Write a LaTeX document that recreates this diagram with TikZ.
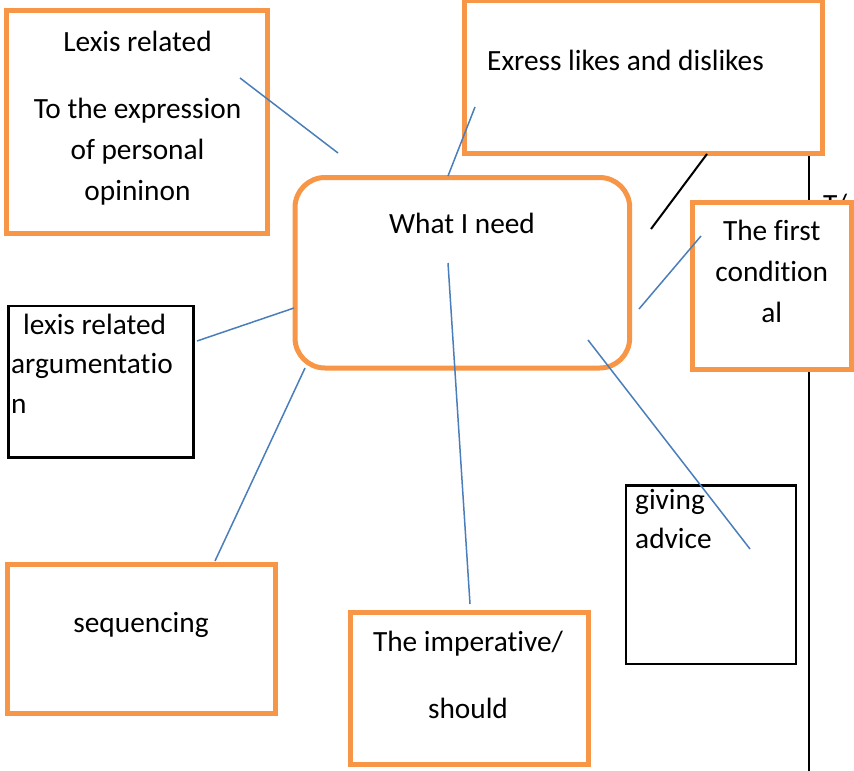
\documentclass[tikz,border=0pt]{standalone}
\usepackage{fontspec}
\setmainfont[Ligatures={NoCommon,NoContextual}]{Carlito}
\definecolor{boxorange}{HTML}{F79646}
\definecolor{lineblue}{HTML}{4A7EBB}
\begin{document}
\begin{tikzpicture}[x=1pt,y=-1pt,
  obox/.style={draw=boxorange,line width=5pt,fill=white,inner sep=0pt,outer sep=0pt},
  bbox/.style={draw=black,line width=2.5pt,fill=white,inner sep=0pt,outer sep=0pt},
  txt/.style={inner sep=0pt,font=\fontsize{29.33}{41}\selectfont},
  link/.style={lineblue,line width=1.5pt}]
  \useasboundingbox (0,0) rectangle (854,771);
  \node[txt,anchor=base west] (tcut) at (823,214) {T/};
  \coordinate (va) at (808.5,155);
  \coordinate (vb) at (808.5,771);
  \draw[line width=2pt] (va)--(vb);
  \node[obox,minimum width=261,minimum height=222.5] (lexis) at (137,121.75) {};
  \node[obox,minimum width=358.5,minimum height=153] (likes) at (643.25,77) {};
  \node[obox,rounded corners=30pt,minimum width=334.7,minimum height=190.5] (need) at (462.35,272.75) {};
  \node[obox,minimum width=159,minimum height=167] (cond) at (772,285.5) {};
  \node[bbox,minimum width=185.2,minimum height=151.5] (argu) at (101.1,381.75) {};
  \node[obox,minimum width=267.5,minimum height=149.5] (seq) at (141.25,638.75) {};
  \node[obox,minimum width=237.7,minimum height=151.5] (imper) at (469.65,688.25) {};
  \node[bbox,minimum width=169.8,minimum height=178.5] (advice) at (710.9,574.55) {};
  \node[txt,anchor=base,align=center] (lexis-t) at (137.5,200) {Lexis related\\[26pt]To the expression\\of personal\\opininon};
  \node[txt,anchor=base west] (likes-t) at (487,70) {Exress likes and dislikes};
  \node[txt,anchor=base] (need-t) at (462,233) {What I need};
  \node[txt,anchor=base,align=center] (cond-t) at (771.7,322) {The first\\condition\\al};
  \node[txt,anchor=base west,align=left,font=\fontsize{29.33}{39.5}\selectfont] (argu-t) at (11,413) {\hspace*{12pt}lexis related\\argumentatio\\n};
  \node[txt,anchor=base] (seq-t) at (141,632.7) {sequencing};
  \node[txt,anchor=base,align=center] (imper-t) at (468,718.3) {The imperative/\\[25.6pt]should};
  \node[txt,anchor=base west,align=left,font=\fontsize{29.33}{39.5}\selectfont] (advice-t) at (635,548.5) {giving\\advice};
  \coordinate (ka) at (707,154);
  \coordinate (kb) at (651,229);
  \draw[line width=2pt] (ka)--(kb);
  \coordinate (a1) at (240,78);
  \coordinate (a2) at (338,153);
  \coordinate (b1) at (475,107);
  \coordinate (b2) at (448,176);
  \coordinate (c1) at (701,236);
  \coordinate (c2) at (639,309);
  \coordinate (d1) at (197,341);
  \coordinate (d2) at (294,308);
  \coordinate (e1) at (305,368);
  \coordinate (e2) at (215,561);
  \coordinate (f1) at (448,263);
  \coordinate (f2) at (470,604);
  \coordinate (g1) at (588,340);
  \coordinate (g2) at (750,549);
  \draw[link] (a1)--(a2);
  \draw[link] (b1)--(b2);
  \draw[link] (c1)--(c2);
  \draw[link] (d1)--(d2);
  \draw[link] (e1)--(e2);
  \draw[link] (f1)--(f2);
  \draw[link] (g1)--(g2);
\end{tikzpicture}
\end{document}
